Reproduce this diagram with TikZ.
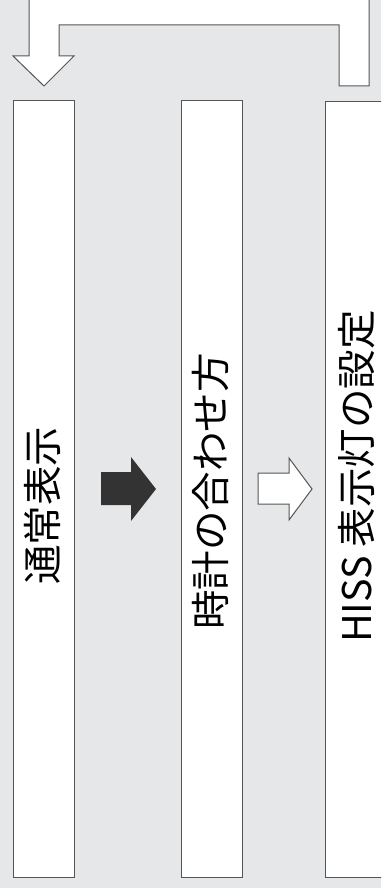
\documentclass[tikz,border=0pt]{standalone}
\usepackage{fontspec}
\setmainfont{Noto Sans CJK JP}
\usepackage{xcolor}
\definecolor{bggray}{HTML}{E6E7E9}
\definecolor{linegray}{HTML}{555555}
\definecolor{darkfill}{HTML}{333333}
\tikzset{
  stepbox/.style={draw=linegray,line width=1pt,fill=white,minimum width=61pt,minimum height=776pt,inner sep=0pt},
  steptext/.style={rotate=90,font=\fontsize{39.5}{40}\selectfont,inner sep=0pt},
  blockarrow/.style={draw=linegray,line width=1pt,fill=white,line join=miter}
}
\begin{document}
\begin{tikzpicture}[x=1pt,y=-1pt]
        \useasboundingbox (0,0) rectangle (381,888);
        \clip (0,0) rectangle (381,888);
        % background
        \fill[bggray] (0,0) rectangle (381,888);
        % boxes
        \node[stepbox] (normal) at (43.5,489) {};
        \node[stepbox] (clock) at (211.5,489) {};
        \node[stepbox,anchor=north west] (hiss) at (325,101) {};
        % texts
        \node[steptext] (normaltext) at (42,505.5) {通常表示};
        \node[steptext] (clocktext) at (211,491.5) {時計の合わせ方};
        \node[steptext] (hisstext) at (357,476.5) {HISS 表示灯の設定};
        % arrows
        \fill[darkfill] (101,472) -- (131,472) -- (131,457) -- (156,489) -- (131,521) -- (131,505) -- (101,505) -- cycle;
        \draw[blockarrow] (258,473) -- (289,473) -- (289,458) -- (312,489) -- (289,520) -- (289,504) -- (258,504) -- cycle;
        % return loop
        \draw[blockarrow] (29,-10) -- (29,56) -- (13,56) -- (44,86) -- (74,56) -- (59,56) -- (59,25)
          -- (339,25) -- (339,86) -- (369,86) -- (369,-10) -- cycle;
\end{tikzpicture}
\end{document}
